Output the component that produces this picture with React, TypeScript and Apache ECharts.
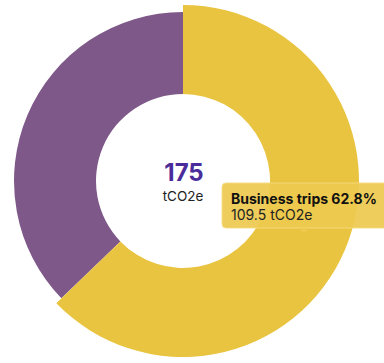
import React, { useEffect, useRef } from "react";
import * as echarts from "echarts";

const categories = ["Business trips", "Other"];
const values = [109.5, 64.9];
const percents = [62.8, 37.2];
const totalLabel = 175;
const colors = ["#E9C441", "#7E5889"];
const unit = "tCO2e";

export default function App() {
  const ref = useRef<HTMLDivElement>(null);
  useEffect(() => {
    document.body.style.margin = "0";
    const chart = echarts.init(ref.current!, null, { renderer: "svg" });
    const font = "Inter, 'Noto Sans', sans-serif";
    chart.setOption({
      animation: false,
      series: [
        {
          type: "pie",
          center: [183, 181],
          radius: [87, 169],
          startAngle: 90,
          clockwise: true,
          z: 1,
          label: { show: false },
          labelLine: { show: false },
          emphasis: { scale: true, scaleSize: 7 },
          data: categories.map((c, i) => ({
            name: c,
            value: values[i],
            itemStyle: { color: colors[i] },
            emphasis: { itemStyle: { color: colors[i] } },
          })),
        },
      ],
      graphic: [
        {
          type: "text",
          x: 184,
          y: 172,
          z: 100,
          style: {
            text: String(totalLabel),
            fill: "#4A2C9A",
            font: `700 24px ${font}`,
            align: "center",
            verticalAlign: "middle",
          },
        },
        {
          type: "text",
          x: 183,
          y: 196,
          z: 100,
          style: {
            text: unit,
            fill: "#222222",
            font: `400 13.5px ${font}`,
            align: "center",
            verticalAlign: "middle",
          },
        },
        {
          type: "group",
          z: 100,
          children: [
            {
              type: "rect",
              z: 100,
              shape: { x: 222, y: 183, width: 170, height: 45, r: 4 },
              style: { fill: "rgba(237,201,78,0.92)", stroke: "rgba(245,220,130,0.9)", lineWidth: 1 },
            },
            {
              type: "polygon",
              z: 100,
              shape: { points: [[299, 228], [309, 228], [304, 233]] },
              style: { fill: "rgba(237,201,78,0.95)" },
            },
            {
              type: "text",
              z: 101,
              x: 231,
              y: 198,
              style: {
                text: `${categories[0]} ${percents[0]}%`,
                fill: "#111111",
                font: `700 14px ${font}`,
                verticalAlign: "middle",
              },
            },
            {
              type: "text",
              z: 101,
              x: 231,
              y: 214,
              style: {
                text: `${values[0]} ${unit}`,
                fill: "#222222",
                font: `400 14px ${font}`,
                verticalAlign: "middle",
              },
            },
          ],
        },
      ],
    });
    chart.dispatchAction({ type: "highlight", seriesIndex: 0, dataIndex: 0 });
    return () => chart.dispose();
  }, []);
  return <div ref={ref} style={{ width: 384, height: 363, position: "absolute", left: 0, top: 0 }} />;
}
